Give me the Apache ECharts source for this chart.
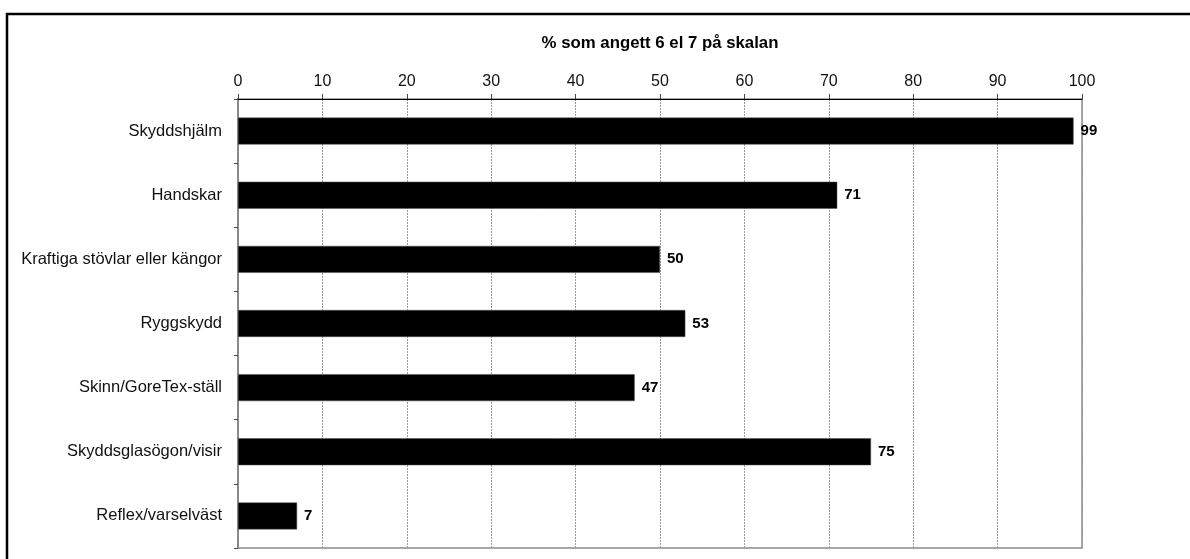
<!DOCTYPE html>
<html>
<head>
<meta charset="utf-8">
<script src="https://cdn.jsdelivr.net/npm/echarts@6/dist/echarts.min.js"></script>
<style>
  html, body { margin: 0; padding: 0; background: #fff; }
  #chart { width: 1190px; height: 559px; }
</style>
</head>
<body>
<div id="chart"></div>
<script>
// Protective gear rated 6 or 7 on the scale (percent of respondents)
const categories = [
  'Skyddshjälm',
  'Handskar',
  'Kraftiga stövlar eller kängor',
  'Ryggskydd',
  'Skinn/GoreTex-ställ',
  'Skyddsglasögon/visir',
  'Reflex/varselväst'
];
const values = [99, 71, 50, 53, 47, 75, 7];
const axisTitle = '% som angett 6 el 7 på skalan';
const tickMin = 0, tickMax = 100, tickStep = 10;

const FONT = '"Liberation Sans", Arial, sans-serif';
const chart = echarts.init(document.getElementById('chart'), null, { renderer: 'canvas' });

chart.setOption({
  animation: false,
  backgroundColor: '#ffffff',
  graphic: [{
    // outer frame around the chart (continues past the right and bottom edges)
    type: 'rect',
    shape: { x: 7, y: 14, width: 1300, height: 700 },
    style: { fill: 'none', stroke: '#000', lineWidth: 2.5 },
    silent: true,
    z: 100
  }],
  grid: {
    left: 238, right: 108, top: 99, bottom: 11,
    show: true,
    borderColor: '#8a8a8a',
    borderWidth: 1.5,
    backgroundColor: 'transparent'
  },
  xAxis: {
    type: 'value',
    position: 'top',
    min: tickMin, max: tickMax, interval: tickStep,
    name: axisTitle,
    nameLocation: 'middle',
    nameGap: 47,
    nameTextStyle: { fontFamily: FONT, fontSize: 16.8, fontWeight: 'bold', color: '#000' },
    axisLine: { show: true, lineStyle: { color: '#000', width: 1.2 } },
    axisTick: { show: true, length: 5, inside: false, lineStyle: { color: '#444', width: 1 } },
    axisLabel: { margin: 9, fontFamily: FONT, fontSize: 16, color: '#111' },
    splitLine: { show: true, lineStyle: { color: '#9a9a9a', type: [2, 1], width: 1 } }
  },
  yAxis: {
    type: 'category',
    data: categories,
    inverse: true,
    axisLine: { show: true, lineStyle: { color: '#8a8a8a', width: 2 } },
    axisTick: { show: true, length: 4, inside: false, lineStyle: { color: '#444', width: 1 } },
    axisLabel: { margin: 16, fontFamily: FONT, fontSize: 16.5, color: '#111', padding: [3, 0, 0, 0] },
    splitLine: { show: false }
  },
  series: [{
    type: 'bar',
    data: values,
    barWidth: '42%',
    itemStyle: { color: '#000', borderColor: '#555', borderWidth: 0.5 },
    label: {
      show: true,
      position: 'right',
      distance: 7,
      fontFamily: FONT,
      fontSize: 15,
      fontWeight: 'bold',
      color: '#000',
      padding: [3, 0, 0, 0]
    }
  }]
});
</script>
</body>
</html>
